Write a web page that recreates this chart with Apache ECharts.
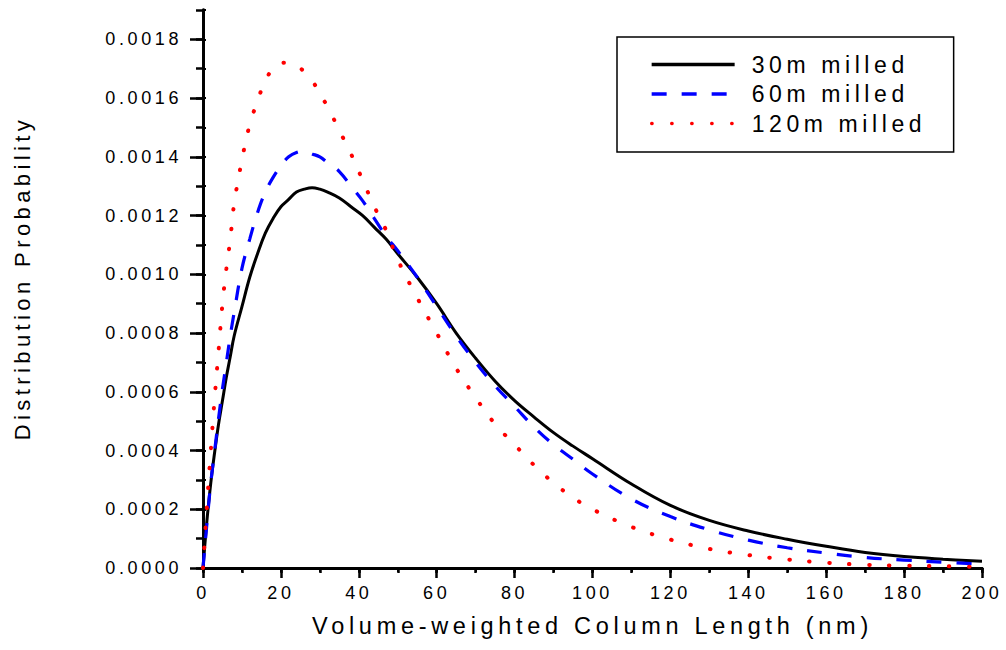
<!DOCTYPE html>
<html>
<head>
<meta charset="utf-8">
<script src="https://cdn.jsdelivr.net/npm/echarts@6/dist/echarts.min.js"></script>
<style>
  html, body { margin: 0; padding: 0; background: #fff; }
  #chart { width: 1006px; height: 650px; }
  #chart text { letter-spacing: 0.2em; }
</style>
</head>
<body>
<div id="chart"></div>
<script>
// ---- data ----
const xValues = [0,1,2,3,4,5,6,7,8,10,12,14,16,18,20,22,24,26,28,30,32,35,38,41,44,47,50,55,60,65,70,75,80,85,90,95,100,110,120,130,140,150,160,170,180,190,200];

const milled30 = [0,0.00016,0.00029,0.000395,0.00049,0.00057,0.00065,0.00072,0.00079,0.00089,0.00099,0.00107,0.00114,0.00119,0.00123,0.001255,0.00128,0.00129,0.001295,0.00129,0.00128,0.00126,0.00123,0.0012,0.00116,0.00112,0.00107,0.00099,0.0009,0.0008,0.000714,0.000636,0.00057,0.000514,0.000461,0.000415,0.000372,0.000286,0.000213,0.000162,0.000126,0.000098,0.000074,0.000053,0.000039,0.00003,0.000023];

const milled60 = [0,0.00015,0.00029,0.0004,0.00051,0.00061,0.0007,0.00079,0.00087,0.00102,0.00112,0.00121,0.00128,0.00133,0.00137,0.0014,0.001415,0.00142,0.00141,0.0014,0.00138,0.00135,0.0013,0.00125,0.00119,0.00113,0.00108,0.00099,0.00089,0.00079,0.0007,0.00062,0.00055,0.00048,0.00042,0.00037,0.00032,0.000235,0.000175,0.00013,0.000095,0.000069,0.000051,0.000036,0.000027,0.00002,0.000013];

const milled120 = [0,0.00021,0.0004,0.00058,0.00074,0.0009,0.00102,0.00112,0.00124,0.00139,0.00151,0.00159,0.00166,0.0017,0.00172,0.00172,0.00171,0.00169,0.00166,0.001615,0.00157,0.00149,0.00141,0.00132,0.00123,0.00115,0.00105,0.00092,0.0008,0.00068,0.00058,0.00049,0.00042,0.00035,0.00029,0.00024,0.0002,0.00014,0.000097,0.000065,0.000044,0.000029,0.000018,0.000011,0.000008,0.000006,0.000004];

const seriesNames = ['30m milled', '60m milled', '120m milled'];

const xMajorTicks = [0,20,40,60,80,100,120,140,160,180,200];
const yMajorTicks = [0,0.0002,0.0004,0.0006,0.0008,0.001,0.0012,0.0014,0.0016,0.0018];

const xAxisTitle = 'Volume-weighted Column Length (nm)';
const yAxisTitle = 'Distribution Probability';

// ---- chart ----
const FONT = '"Liberation Sans", Arial, sans-serif';
const pairs = (ys) => xValues.map((x, i) => [x, ys[i]]);

const chart = echarts.init(document.getElementById('chart'), null, { renderer: 'svg' });

const lineAxis = { show: true, lineStyle: { color: '#000', width: 2.8 } };

chart.setOption({
  backgroundColor: '#fff',
  animation: false,
  grid: { left: 203, right: 24, top: 10, bottom: 82 },
  xAxis: [
    {
      type: 'value', position: 'bottom', min: 0, max: 200, interval: 20,
      axisLine: lineAxis,
      axisTick: { show: true, length: 10, lineStyle: { color: '#000', width: 2.5 }, customValues: xMajorTicks },
      axisLabel: { color: '#000', fontFamily: FONT, fontSize: 18, margin: 16, customValues: xMajorTicks },
      splitLine: { show: false },
      name: xAxisTitle, nameLocation: 'middle', nameGap: 46,
      nameTextStyle: { color: '#000', fontFamily: FONT, fontSize: 23.5 }
    },
    {
      type: 'value', position: 'bottom', min: 0, max: 200, interval: 10,
      axisLine: { show: false },
      axisTick: { show: true, length: 5, lineStyle: { color: '#000', width: 2.5 } },
      axisLabel: { show: false }, splitLine: { show: false }
    },
    {
      type: 'value', position: 'top', min: 0, max: 200, interval: 10,
      axisLine: lineAxis,
      axisTick: { show: true, inside: true, length: 4, lineStyle: { color: '#000', width: 2 } },
      axisLabel: { show: false }, splitLine: { show: false }
    }
  ],
  yAxis: [
    {
      type: 'value', position: 'left', min: 0, max: 0.0019, interval: 0.0002,
      axisLine: lineAxis,
      axisTick: { show: true, length: 13, lineStyle: { color: '#000', width: 2.5 }, customValues: yMajorTicks },
      axisLabel: {
        color: '#000', fontFamily: FONT, fontSize: 18, margin: 21, customValues: yMajorTicks,
        formatter: (v) => v.toFixed(4)
      },
      splitLine: { show: false },
      name: yAxisTitle, nameLocation: 'middle', nameGap: 170, nameRotate: 90,
      nameTextStyle: { color: '#000', fontFamily: FONT, fontSize: 22, padding: [0, 0, 0, 22] }
    },
    {
      type: 'value', position: 'left', min: 0, max: 0.0019, interval: 0.0001,
      axisLine: { show: false },
      axisTick: { show: true, length: 7, lineStyle: { color: '#000', width: 2.5 } },
      axisLabel: { show: false }, splitLine: { show: false }
    },
    {
      type: 'value', position: 'right', min: 0, max: 0.0019, interval: 0.0001,
      axisLine: lineAxis,
      axisTick: { show: true, length: 3, lineStyle: { color: '#000', width: 2 } },
      axisLabel: { show: false }, splitLine: { show: false }
    }
  ],
  legend: {
    orient: 'vertical',
    left: 617, top: 37,
    padding: [16, 78, 17, 33],
    itemWidth: 83, itemHeight: 24, itemGap: 6.5,
    borderColor: '#000', borderWidth: 1.5,
    itemStyle: { opacity: 0 },
    lineStyle: { width: 3.3 },
    textStyle: { color: '#000', fontFamily: FONT, fontSize: 23, padding: [0, 0, 0, 12] },
    data: seriesNames
  },
  series: [
    {
      name: seriesNames[0], type: 'line', xAxisIndex: 0, yAxisIndex: 0,
      data: pairs(milled30), symbol: 'none', smooth: 0.4,
      lineStyle: { color: '#000', width: 3, type: 'solid' }, itemStyle: { color: '#000' }
    },
    {
      name: seriesNames[1], type: 'line', xAxisIndex: 0, yAxisIndex: 0,
      data: pairs(milled60), symbol: 'none', smooth: 0.4,
      lineStyle: { color: '#0000ff', width: 3.2, type: [15, 15] }, itemStyle: { color: '#0000ff' }
    },
    {
      name: seriesNames[2], type: 'line', xAxisIndex: 0, yAxisIndex: 0,
      data: pairs(milled120), symbol: 'none', smooth: 0.4,
      lineStyle: { color: '#ff0000', width: 4, type: [0.5, 19.5], cap: 'round' }, itemStyle: { color: '#ff0000' }
    }
  ]
});
</script>
</body>
</html>
